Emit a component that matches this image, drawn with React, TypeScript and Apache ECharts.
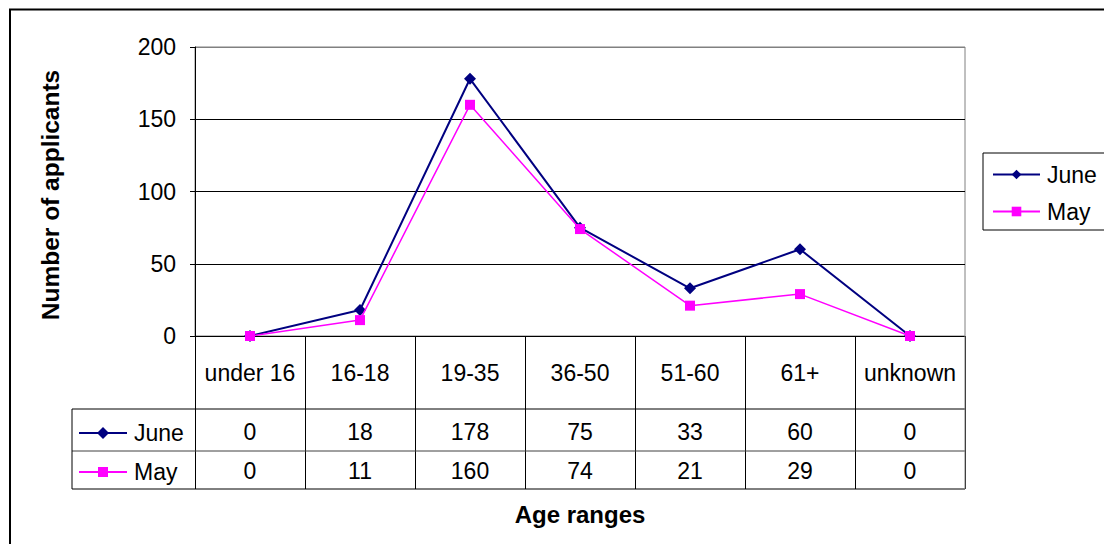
import React, { useEffect, useRef } from "react";
import * as echarts from "echarts";

// Applicants per age range, two months
const categories = ["under 16", "16-18", "19-35", "36-50", "51-60", "61+", "unknown"];
const june = [0, 18, 178, 75, 33, 60, 0];
const may = [0, 11, 160, 74, 21, 29, 0];
const seriesNames = ["June", "May"];
const yMin = 0;
const yMax = 200;
const yStep = 50;

const FONT = "'Liberation Sans', Arial, Helvetica, sans-serif";
const NAVY = "#000080";
const MAGENTA = "#FF00FF";
const GREY = "#808080";

export default function App() {
  const ref = useRef<HTMLDivElement>(null);

  useEffect(() => {
    const chart = echarts.init(ref.current!, null, { renderer: "svg" });

    const W = 1104;
    const H = 544;
    const plotLeft = 195;
    const plotRight = 965;
    const plotTop = 47;
    const plotBottom = 336;
    const rowJune = 409;
    const rowMay = 451;
    const tableBottom = 489;
    const tableLeft = 72;

    const valueRowAxis = (values: number[], margin: number) => ({
      type: "category",
      data: categories,
      position: "bottom",
      gridIndex: 0,
      axisLine: { show: false },
      axisTick: { show: false },
      splitLine: { show: false },
      axisLabel: {
        interval: 0,
        margin,
        verticalAlign: "middle",
        fontSize: 23,
        color: "#000",
        fontFamily: FONT,
        formatter: (_v: string, i: number) => String(values[i]),
      },
    });

    const hLine = (x1: number, x2: number, y: number, color = "#000") => ({
      type: "line",
      silent: true,
      shape: { x1, y1: y, x2, y2: y },
      style: { stroke: color, lineWidth: 1 },
      z: 100,
    });
    const vLine = (x: number, y1: number, y2: number, color = "#000") => ({
      type: "line",
      silent: true,
      shape: { x1: x, y1, x2: x, y2 },
      style: { stroke: color, lineWidth: 1 },
      z: 100,
    });

    // Key samples in the table's first column
    const keySample = (y: number, color: string, marker: "diamond" | "square", label: string) => {
      const cx = 103;
      const shape =
        marker === "diamond"
          ? {
              type: "polygon",
              shape: { points: [[cx, y - 6], [cx + 6, y], [cx, y + 6], [cx - 6, y]] },
              style: { fill: color },
            }
          : {
              type: "rect",
              shape: { x: cx - 5, y: y - 5, width: 10, height: 10 },
              style: { fill: color },
            };
      return [
        {
          type: "line",
          shape: { x1: 79, y1: y, x2: 127, y2: y },
          style: { stroke: color, lineWidth: 2 },
          z: 101,
        },
        { ...shape, z: 102 },
        {
          type: "text",
          x: 134,
          y,
          style: {
            text: label,
            fontSize: 23,
            fontFamily: FONT,
            fill: "#000",
            textAlign: "left",
            textVerticalAlign: "middle",
          },
          z: 102,
        },
      ];
    };

    chart.setOption({
      animation: false,
      backgroundColor: "#fff",
      grid: {
        left: plotLeft,
        top: plotTop,
        width: plotRight - plotLeft,
        height: plotBottom - plotTop,
        show: true,
        borderColor: GREY,
        borderWidth: 1,
        backgroundColor: "transparent",
      },
      legend: {
        data: seriesNames,
        orient: "vertical",
        left: 983,
        top: 153,
        width: 120,
        padding: [10, 12, 7, 9],
        itemGap: 14,
        itemWidth: 47,
        itemHeight: 12,
        borderColor: "#000",
        borderWidth: 1,
        backgroundColor: "#fff",
        textStyle: { fontSize: 23, color: "#000", fontFamily: FONT, padding: [0, 0, 0, 2] },
      },
      xAxis: [
        {
          type: "category",
          data: categories,
          boundaryGap: true,
          position: "bottom",
          axisLine: { show: true, lineStyle: { color: "#000", width: 1 } },
          axisTick: {
            show: true,
            interval: 0,
            inside: false,
            length: tableBottom - plotBottom,
            lineStyle: { color: "#000", width: 1 },
          },
          axisLabel: {
            interval: 0,
            margin: 37,
            verticalAlign: "middle",
            fontSize: 23,
            color: "#000",
            fontFamily: FONT,
          },
          splitLine: { show: false },
        },
        valueRowAxis(june, 96),
        valueRowAxis(may, 135),
      ],
      yAxis: {
        type: "value",
        min: yMin,
        max: yMax,
        interval: yStep,
        axisLine: { show: true, lineStyle: { color: "#000", width: 1 } },
        axisTick: { show: true, inside: false, length: 5, lineStyle: { color: "#000" } },
        axisLabel: { fontSize: 23, color: "#000", fontFamily: FONT, margin: 19 },
        splitLine: {
          show: true,
          lineStyle: { color: ["#000", "#000", "#000", "#000", GREY], width: 1 },
        },
      },
      series: [
        {
          name: seriesNames[0],
          type: "line",
          data: june,
          symbol: "diamond",
          symbolSize: 12,
          itemStyle: { color: NAVY },
          lineStyle: { color: NAVY, width: 2 },
          z: 3,
        },
        {
          name: seriesNames[1],
          type: "line",
          data: may,
          symbol: "rect",
          symbolSize: 10,
          itemStyle: { color: MAGENTA },
          lineStyle: { color: MAGENTA, width: 1.5 },
          z: 4,
        },
      ],
      graphic: [
        // outer frame
        {
          type: "rect",
          silent: true,
          shape: { x: 10, y: 9.5, width: W + 40, height: H + 40 },
          style: { fill: "none", stroke: "#000", lineWidth: 2 },
          z: 100,
        },
        // data table rules
        hLine(tableLeft, plotRight, rowJune),
        hLine(tableLeft, plotRight, rowMay, "#404040"),
        hLine(tableLeft, plotRight, tableBottom),
        vLine(tableLeft, rowJune, tableBottom),
        vLine(plotRight, plotBottom, tableBottom, GREY),
        ...keySample(433, NAVY, "diamond", seriesNames[0]),
        ...keySample(472, MAGENTA, "square", seriesNames[1]),
        // axis titles
        {
          type: "text",
          x: 50,
          y: 195,
          rotation: Math.PI / 2,
          style: {
            text: "Number of applicants",
            fontSize: 24.5,
            fontWeight: "bold",
            fontFamily: FONT,
            fill: "#000",
            textAlign: "center",
            textVerticalAlign: "middle",
          },
          z: 100,
        },
        {
          type: "text",
          x: 580,
          y: 514,
          style: {
            text: "Age ranges",
            fontSize: 24,
            fontWeight: "bold",
            fontFamily: FONT,
            fill: "#000",
            textAlign: "center",
            textVerticalAlign: "middle",
          },
          z: 100,
        },
      ],
    });

    return () => chart.dispose();
  }, []);

  return (
    <div
      ref={ref}
      style={{ position: "fixed", left: 0, top: 0, width: 1104, height: 544, background: "#fff" }}
    />
  );
}
